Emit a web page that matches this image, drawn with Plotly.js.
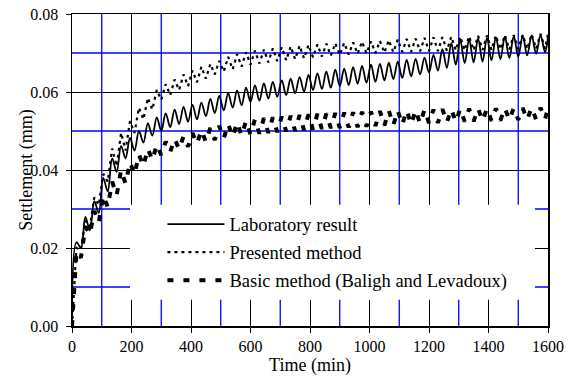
<!DOCTYPE html>
<html>
<head>
<meta charset="utf-8">
<script src="https://cdn.plot.ly/plotly-3.0.1.min.js"></script>
<style>html,body{margin:0;padding:0;background:#fff;}#chart{width:568px;height:381px;}</style>
</head>
<body>
<div id="chart"></div>
<script>
const timeMin = [0,15,30,45,60,75,90,105,120,135,150,165,180,195,210,225,240,255,270,285,300,315,330,345,360,375,390,405,420,435,450,465,480,495,510,525,540,555,570,585,600,615,630,645,660,675,690,705,720,735,750,765,780,795,810,825,840,855,870,885,900,915,930,945,960,975,990,1005,1020,1035,1050,1065,1080,1095,1110,1125,1140,1155,1170,1185,1200,1215,1230,1245,1260,1275,1290,1305,1320,1335,1350,1365,1380,1395,1410,1425,1440,1455,1470,1485,1500,1515,1530,1545,1560,1575,1590,1600];

const labResult = [0,0.0215,0.0200,0.0280,0.0245,0.0320,0.0290,0.0380,0.0345,0.0430,0.0395,0.0462,0.0430,0.0482,0.0450,0.0500,0.0470,0.0520,0.0488,0.0535,0.0500,0.0545,0.0510,0.0555,0.0518,0.0562,0.0524,0.0567,0.0530,0.0573,0.0538,0.0582,0.0546,0.0590,0.0553,0.0597,0.0560,0.0604,0.0566,0.0611,0.0575,0.0617,0.0578,0.0622,0.0583,0.0626,0.0588,0.0630,0.0592,0.0634,0.0597,0.0638,0.0601,0.0644,0.0605,0.0648,0.0608,0.0652,0.0611,0.0657,0.0615,0.0660,0.0618,0.0664,0.0621,0.0667,0.0624,0.0670,0.0626,0.0672,0.0630,0.0675,0.0633,0.0678,0.0636,0.0682,0.0640,0.0685,0.0645,0.0688,0.0650,0.0695,0.0655,0.0710,0.0662,0.0725,0.0670,0.0733,0.0674,0.0735,0.0676,0.0737,0.0678,0.0739,0.0681,0.0740,0.0684,0.0742,0.0687,0.0743,0.0690,0.0744,0.0694,0.0745,0.0698,0.0746,0.0702,0.0740];

const presentedMethod = [0,0.0200,0.0195,0.0270,0.0255,0.0330,0.0310,0.0390,0.0370,0.0455,0.0410,0.0495,0.0450,0.0525,0.0495,0.0560,0.0530,0.0585,0.0555,0.0605,0.0580,0.0620,0.0592,0.0632,0.0605,0.0645,0.0615,0.0655,0.0625,0.0665,0.0634,0.0672,0.0645,0.0680,0.0652,0.0690,0.0658,0.0697,0.0665,0.0702,0.0670,0.0706,0.0673,0.0709,0.0676,0.0712,0.0679,0.0715,0.0681,0.0717,0.0684,0.0719,0.0686,0.0721,0.0689,0.0722,0.0691,0.0724,0.0693,0.0725,0.0695,0.0726,0.0696,0.0727,0.0698,0.0729,0.0699,0.0730,0.0700,0.0731,0.0701,0.0733,0.0702,0.0734,0.0703,0.0736,0.0703,0.0737,0.0704,0.0739,0.0705,0.0740,0.0705,0.0741,0.0706,0.0742,0.0707,0.0742,0.0707,0.0743,0.0707,0.0744,0.0708,0.0745,0.0708,0.0745,0.0709,0.0746,0.0709,0.0746,0.0710,0.0747,0.0710,0.0748,0.0711,0.0749,0.0711,0.0748];

const basicMethod = [0,0.0190,0.0175,0.0255,0.0235,0.0295,0.0265,0.0335,0.0305,0.0370,0.0335,0.0400,0.0365,0.0420,0.0388,0.0440,0.0410,0.0455,0.0425,0.0465,0.0438,0.0473,0.0446,0.0480,0.0453,0.0487,0.0460,0.0495,0.0467,0.0502,0.0472,0.0508,0.0477,0.0513,0.0481,0.0518,0.0485,0.0522,0.0488,0.0526,0.0491,0.0530,0.0493,0.0533,0.0495,0.0535,0.0497,0.0537,0.0499,0.0539,0.0500,0.0541,0.0502,0.0543,0.0504,0.0544,0.0505,0.0545,0.0507,0.0546,0.0508,0.0547,0.0509,0.0548,0.0510,0.0549,0.0511,0.0550,0.0513,0.0551,0.0514,0.0552,0.0515,0.0553,0.0516,0.0553,0.0517,0.0554,0.0519,0.0555,0.0520,0.0555,0.0521,0.0556,0.0522,0.0556,0.0523,0.0557,0.0524,0.0557,0.0525,0.0558,0.0526,0.0558,0.0526,0.0558,0.0527,0.0559,0.0528,0.0559,0.0529,0.0559,0.0529,0.0560,0.0530,0.0560,0.0530,0.0560];

const seriesNames = ['Laboratory result', 'Presented method', 'Basic method (Baligh and Levadoux)'];
const minorGridX = [100,300,500,700,900,1100,1300,1500];
const minorGridY = [0.01,0.03,0.05,0.07];
const yTickFormat = '.2f';

const FONT = 'Liberation Serif, Times New Roman, serif';

const traces = [
  {x: timeMin, y: labResult, name: seriesNames[0], mode: 'lines', legendgroup: 'a',
   line: {color: '#000', width: 1.8, shape: 'spline', smoothing: 1}},
  {x: timeMin, y: presentedMethod, name: seriesNames[1], mode: 'lines', legendgroup: 'b',
   line: {color: '#000', width: 2.2, dash: '3px,4px'}},
  {x: timeMin, y: basicMethod, name: seriesNames[2], mode: 'lines', legendgroup: 'c',
   line: {color: '#000', width: 4, dash: '6px,10px'}}
];

const BLUE = '#0000ff';
const shapes = [];
minorGridX.forEach(v => shapes.push({type: 'line', xref: 'x', yref: 'paper', x0: v, x1: v, y0: 0, y1: 1,
  line: {color: BLUE, width: 1.3}, layer: 'between'}));
minorGridY.forEach(v => shapes.push({type: 'line', xref: 'paper', yref: 'y', x0: 0, x1: 1, y0: v, y1: v,
  line: {color: BLUE, width: 1.3}, layer: 'between'}));
shapes.push({type: 'rect', xref: 'x', yref: 'y', x0: 195, x1: 1556, y0: 0.0067, y1: 0.0311,
  fillcolor: '#fff', line: {width: 0}, layer: 'between'});

const layout = {
  width: 568, height: 381,
  margin: {l: 72, r: 20, t: 14, b: 55},
  paper_bgcolor: '#fff', plot_bgcolor: '#fff',
  font: {family: FONT, size: 16, color: '#000'},
  showlegend: true,
  legend: {
    x: 0.19, y: 0.386, xanchor: 'left', yanchor: 'top',
    bgcolor: 'rgba(0,0,0,0)', borderwidth: 0,
    font: {family: FONT, size: 18.5, color: '#000'},
    itemwidth: 57, traceorder: 'grouped', tracegroupgap: 1
  },
  xaxis: {
    range: [0, 1600], tickmode: 'linear', tick0: 0, dtick: 200,
    showgrid: true, gridcolor: '#000', gridwidth: 1,
    showline: true, linecolor: '#000', linewidth: 1.5, mirror: true,
    ticks: 'outside', ticklen: 5, tickcolor: '#000',
    zeroline: false,
    title: {text: 'Time (min)', font: {family: FONT, size: 18}, standoff: 4},
    tickfont: {family: FONT, size: 16}
  },
  yaxis: {
    range: [0, 0.08], tickmode: 'linear', tick0: 0, dtick: 0.02, tickformat: yTickFormat,
    showgrid: true, gridcolor: '#000', gridwidth: 1,
    showline: true, linecolor: '#000', linewidth: 1.5, mirror: true,
    ticks: 'outside', ticklen: 5, tickcolor: '#000', ticklabelstandoff: 4,
    zeroline: false,
    tickfont: {family: FONT, size: 16}
  },
  annotations: [
    {text: 'Settlement (mm)', xref: 'paper', yref: 'paper', x: -0.097, y: 0.5,
     xanchor: 'center', yanchor: 'middle', textangle: -90, showarrow: false,
     font: {family: FONT, size: 18, color: '#000'}}
  ],
  shapes: shapes
};

Plotly.newPlot('chart', traces, layout, {displayModeBar: false, staticPlot: true});
</script>
</body>
</html>
